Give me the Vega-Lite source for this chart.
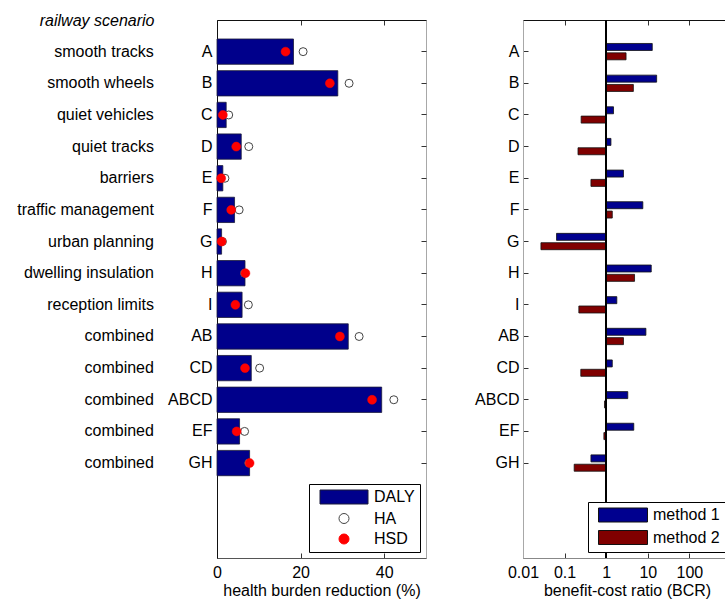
{
  "$schema": "https://vega.github.io/schema/vega-lite/v6.json",
  "padding": {"left": 16, "top": 11, "right": 0, "bottom": 0},
  "background": "white",
  "config": {
    "font": "Liberation Sans",
    "view": {"stroke": "#a8a8a8", "strokeWidth": 1},
    "concat": {"spacing": 47},
    "axis": {
      "labelFont": "Liberation Sans", "labelFontSize": 16, "labelColor": "#000",
      "titleFont": "Liberation Sans", "titleFontSize": 16, "titleFontWeight": "normal", "titleColor": "#000",
      "grid": false, "tickColor": "#333", "domainColor": "#222", "tickSize": -5,
      "labelFlush": false, "labelOverlap": false
    },
    "legend": {
      "labelFont": "Liberation Sans", "labelFontSize": 16, "labelColor": "#000",
      "strokeColor": "#000", "fillColor": "#fff", "padding": 5, "rowPadding": 4.5,
      "symbolSize": 100, "symbolStrokeWidth": 1, "symbolOffset": 22, "labelOffset": 22
    }
  },
  "datasets": {
    "d": [
      {"code": "A", "name": "smooth tracks", "DALY": 18.3, "HA": 20.6, "HSD": 16.4, "method 1": 12.8, "method 2": 3.0},
      {"code": "B", "name": "smooth wheels", "DALY": 28.9, "HA": 31.6, "HSD": 27.0, "method 1": 16.3, "method 2": 4.5},
      {"code": "C", "name": "quiet vehicles", "DALY": 2.2, "HA": 2.8, "HSD": 1.4, "method 1": 1.5, "method 2": 0.25},
      {"code": "D", "name": "quiet tracks", "DALY": 5.8, "HA": 7.6, "HSD": 4.6, "method 1": 1.3, "method 2": 0.21},
      {"code": "E", "name": "barriers", "DALY": 1.4, "HA": 1.9, "HSD": 1.0, "method 1": 2.6, "method 2": 0.43},
      {"code": "F", "name": "traffic management", "DALY": 4.2, "HA": 5.3, "HSD": 3.4, "method 1": 7.6, "method 2": 1.4},
      {"code": "G", "name": "urban planning", "DALY": 1.1, "HA": 1.3, "HSD": 1.1, "method 1": 0.064, "method 2": 0.027},
      {"code": "H", "name": "dwelling insulation", "DALY": 6.7, "HA": 6.6, "HSD": 6.8, "method 1": 12.1, "method 2": 4.8},
      {"code": "I", "name": "reception limits", "DALY": 6.0, "HA": 7.5, "HSD": 4.4, "method 1": 1.8, "method 2": 0.22},
      {"code": "AB", "name": "combined", "DALY": 31.4, "HA": 34.0, "HSD": 29.4, "method 1": 9.0, "method 2": 2.6},
      {"code": "CD", "name": "combined", "DALY": 8.2, "HA": 10.2, "HSD": 6.7, "method 1": 1.4, "method 2": 0.245},
      {"code": "ABCD", "name": "combined", "DALY": 39.4, "HA": 42.3, "HSD": 37.1, "method 1": 3.3, "method 2": 0.91},
      {"code": "EF", "name": "combined", "DALY": 5.4, "HA": 6.6, "HSD": 4.7, "method 1": 4.6, "method 2": 0.88},
      {"code": "GH", "name": "combined", "DALY": 7.8, "HA": 7.6, "HSD": 7.8, "method 1": 0.43, "method 2": 0.17}
    ]
  },
  "hconcat": [
    {
      "width": 209,
      "height": 538,
      "data": {"name": "d"},
      "transform": [{"fold": ["DALY", "HA", "HSD"], "as": ["measure", "pct"]}],
      "resolve": {"axis": {"x": "independent", "y": "independent"}},
      "layer": [
        {
          "transform": [{"filter": "datum.measure === 'DALY'"}],
          "mark": {"type": "bar", "height": {"band": 0.8}, "strokeWidth": 0.8, "opacity": 1},
          "encoding": {
            "y": {
              "field": "code", "type": "nominal", "sort": null,
              "scale": {"type": "band", "domain": ["A","B","C","D","E","F","G","H","I","AB","CD","ABCD","EF","GH"," "], "paddingInner": 0, "paddingOuter": 1, "align": 0.25},
              "axis": {
                "orient": "left", "labelPadding": 10, "domainColor": "#111",
                "values": ["A","B","C","D","E","F","G","H","I","AB","CD","ABCD","EF","GH"],
                "title": "railway scenario", "titleAngle": 0, "titleX": -63, "titleY": 0,
                "titleAlign": "right", "titleBaseline": "middle", "titleFontStyle": "italic"
              }
            },
            "x": {
              "field": "pct", "type": "quantitative",
              "scale": {"domain": [0, 50], "nice": false},
              "axis": {"orient": "bottom", "values": [0, 20, 40], "labelPadding": 11, "titlePadding": 2, "domainColor": "#555", "title": "health burden reduction (%)"}
            },
            "fill": {
              "field": "measure", "type": "nominal",
              "scale": {"domain": ["DALY", "HA", "HSD"], "range": ["#00008B", "#ffffff", "#ff0000"]},
              "legend": {"title": null, "orient": "bottom-right", "offset": 6}
            },
            "stroke": {
              "field": "measure", "type": "nominal",
              "scale": {"domain": ["DALY", "HA", "HSD"], "range": ["#1a1a3a", "#444444", "#ff0000"]},
              "legend": {"title": null, "orient": "bottom-right", "offset": 6}
            }
          }
        },
        {
          "transform": [{"filter": "datum.measure === 'HA'"}],
          "mark": {"type": "point", "filled": true, "size": 64, "strokeWidth": 1, "opacity": 1},
          "encoding": {
            "y": {
              "field": "code", "type": "nominal", "sort": null,
              "axis": {"orient": "right", "labels": false, "domain": false, "title": null, "values": ["A","B","C","D","E","F","G","H","I","AB","CD","ABCD","EF","GH"]}
            },
            "x": {
              "field": "pct", "type": "quantitative",
              "axis": {"orient": "top", "values": [0, 20, 40], "labels": false, "title": null, "domainColor": "#111"}
            },
            "fill": {"field": "measure", "type": "nominal", "legend": {"title": null, "orient": "bottom-right", "offset": 6}},
            "stroke": {"field": "measure", "type": "nominal", "legend": {"title": null, "orient": "bottom-right", "offset": 6}},
            "shape": {
              "field": "measure", "type": "nominal",
              "scale": {"domain": ["DALY", "HA", "HSD"], "range": ["M-4.8,-1.4H4.8V1.4H-4.8Z", "circle", "circle"]},
              "legend": {"title": null, "orient": "bottom-right", "offset": 6}
            }
          }
        },
        {
          "transform": [{"filter": "datum.measure === 'HSD'"}],
          "mark": {"type": "point", "filled": true, "size": 80, "strokeWidth": 0.5, "opacity": 1},
          "encoding": {
            "y": {"field": "code", "type": "nominal", "sort": null, "axis": null},
            "x": {"field": "pct", "type": "quantitative", "axis": null},
            "fill": {"field": "measure", "type": "nominal", "legend": {"title": null, "orient": "bottom-right", "offset": 6}},
            "stroke": {"field": "measure", "type": "nominal", "legend": {"title": null, "orient": "bottom-right", "offset": 6}},
            "shape": {"field": "measure", "type": "nominal", "legend": {"title": null, "orient": "bottom-right", "offset": 6}}
          }
        },
        {
          "transform": [{"filter": "datum.measure === 'DALY'"}],
          "mark": {"type": "text", "align": "right", "baseline": "middle", "fontSize": 16, "font": "Liberation Sans", "color": "#000"},
          "encoding": {
            "y": {"field": "code", "type": "nominal", "sort": null, "axis": null},
            "x": {"datum": -15.1, "type": "quantitative", "axis": null},
            "text": {"field": "name"}
          }
        }
      ]
    },
    {
      "width": 208,
      "height": 538,
      "data": {"name": "d"},
      "transform": [{"fold": ["method 1", "method 2"], "as": ["method", "bcr"]}],
      "resolve": {"axis": {"x": "independent"}},
      "layer": [
        {
          "mark": {"type": "bar", "stroke": "#111", "strokeWidth": 0.8, "opacity": 1},
          "encoding": {
            "y": {
              "field": "code", "type": "nominal", "sort": null,
              "scale": {"type": "band", "domain": ["A","B","C","D","E","F","G","H","I","AB","CD","ABCD","EF","GH"," "], "paddingInner": 0, "paddingOuter": 1, "align": 0.25},
              "axis": {"orient": "left", "labelPadding": 9, "domainColor": "#a8a8a8", "title": null, "values": ["A","B","C","D","E","F","G","H","I","AB","CD","ABCD","EF","GH"]}
            },
            "yOffset": {
              "field": "method", "type": "nominal",
              "scale": {"domain": ["method 1", "method 2"], "paddingInner": 0.25, "paddingOuter": 0.82}
            },
            "x": {
              "field": "bcr", "type": "quantitative",
              "scale": {"type": "log", "domain": [0.01, 1000], "nice": false},
              "axis": {"orient": "bottom", "values": [0.01, 0.1, 1, 10, 100], "format": "~g", "labelPadding": 11, "titlePadding": 2, "domainColor": "#888", "title": "benefit-cost ratio (BCR)"}
            },
            "x2": {"datum": 1},
            "fill": {
              "field": "method", "type": "nominal",
              "scale": {"domain": ["method 1", "method 2"], "range": ["#00008F", "#800000"]},
              "legend": {"title": null, "orient": "bottom-right", "offset": 6, "symbolType": "M-4.9,-1.4H4.9V1.4H-4.9Z", "symbolStrokeColor": "#111"}
            }
          }
        },
        {
          "mark": {"type": "rule", "color": "#000", "strokeWidth": 1.5},
          "encoding": {
            "x": {"datum": 1, "type": "quantitative", "axis": {"orient": "top", "values": [0.01, 0.1, 1, 10, 100], "labels": false, "title": null, "domainColor": "#111"}}
          }
        }
      ]
    }
  ],
  "resolve": {
    "scale": {"fill": "independent", "stroke": "independent", "shape": "independent"},
    "legend": {"fill": "independent", "stroke": "independent", "shape": "independent"}
  }
}
